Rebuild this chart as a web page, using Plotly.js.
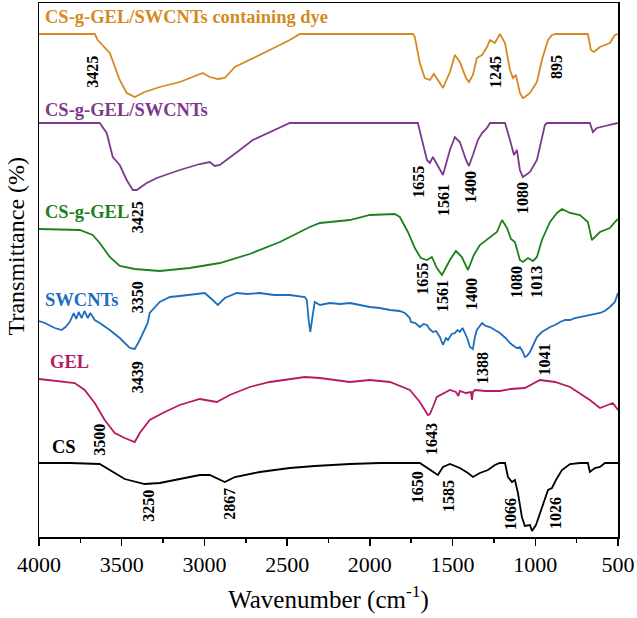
<!DOCTYPE html>
<html>
<head>
<meta charset="utf-8">
<script src="https://cdn.plot.ly/plotly-3.0.1.min.js"></script>
<style>html,body{margin:0;padding:0;background:#fff;}#chart{width:637px;height:618px;}</style>
</head>
<body>
<div id="chart"></div>
<script>
// ---- Data (wavenumber in cm-1, transmittance in offset arbitrary units) ----
const seriesNames = ["CS-g-GEL/SWCNTs containing dye", "CS-g-GEL/SWCNTs", "CS-g-GEL", "SWCNTs", "GEL", "CS"];

const dyeWn = [4000,3663,3645,3572,3512,3470,3421,3361,3270,3149,3010,2968,2919,2877,2816,2726,2605,2484,2423,1740,1728,1698,1668,1637,1613,1577,1558,1516,1486,1456,1419,1401,1377,1353,1322,1292,1274,1244,1214,1183,1153,1135,1117,1093,1075,1063,1032,990,960,923,899,875,682,664,646,609,549,519,500];
const dyeT  = [503,503,497,484,457,444,440,445,450,455,464,460,458,459,470,477,487,497,503,503,500,474,459,457,463,454,449,465,482,475,459,455,462,479,482,490,497,494,503,494,467,459,462,444,439,440,444,455,477,497,502,503,503,487,485,490,494,502,503];

const compWn = [4000,3633,3591,3554,3512,3470,3433,3409,3349,3288,3149,3028,2968,2938,2907,2847,2786,2708,2605,2484,1710,1686,1655,1637,1619,1558,1516,1486,1456,1419,1401,1377,1347,1322,1292,1274,1183,1153,1129,1111,1093,1075,1032,990,960,942,929,670,652,628,579,537,500];
const compT  = [414,414,404,380,372,357,347,347,354,359,367,373,375,371,372,379,387,397,405,414,414,397,377,374,380,362,387,400,395,377,371,382,397,404,409,414,414,397,382,387,367,360,365,377,397,412,414,414,405,409,411,413,414];

const graftWn = [4000,3754,3675,3633,3572,3512,3421,3270,3089,2907,2726,2544,2363,2302,2121,2000,1849,1819,1770,1728,1692,1655,1625,1595,1564,1516,1480,1444,1407,1371,1335,1274,1232,1201,1171,1147,1123,1093,1075,1044,1014,990,960,911,869,839,790,730,682,658,640,609,579,549,519,500];
const graftT  = [308,307,302,294,280,271,268,266,269,274,283,295,310,314,317,322,323,320,305,289,279,277,280,269,262,277,286,280,267,282,292,300,305,317,309,298,295,277,275,279,276,280,297,315,324,328,324,322,315,297,300,305,307,309,315,318];

const swWn = [4000,3965,3905,3863,3840,3814,3790,3775,3760,3742,3725,3705,3690,3663,3633,3572,3512,3451,3421,3391,3343,3331,3270,3209,3150,3089,3040,2998,2950,2919,2877,2804,2740,2665,2580,2484,2393,2381,2370,2360,2348,2333,2302,2242,2180,2121,2060,2000,1940,1879,1820,1788,1758,1752,1725,1698,1675,1655,1640,1619,1600,1577,1558,1540,1528,1505,1486,1470,1456,1440,1425,1410,1395,1377,1365,1353,1322,1300,1274,1240,1214,1180,1153,1130,1111,1093,1075,1063,1051,1032,1010,990,960,942,910,881,850,820,790,760,730,700,670,640,609,580,549,519,500];
const swT  = [216,214,209,207,210,215,224,218,225,219,226,219,224,217,214,207,199,189,188,197,214,224,235,240,241,242,243,244,237,232,239,244,243,244,242,242,240,237,217,205,219,235,232,234,233,234,232,230,229,227,226,224,219,215,214,210,213,212,208,205,206,200,192,199,197,203,204,207,205,209,204,198,190,188,200,207,214,211,210,207,204,199,194,191,189,190,185,180,181,185,193,200,205,207,210,212,215,217,217,219,220,221,222,223,224,226,230,235,244];

const gelWn = [4000,3875,3784,3724,3663,3603,3542,3482,3421,3391,3331,3240,3149,3028,2925,2847,2726,2605,2484,2393,2302,2121,2000,1879,1758,1698,1649,1637,1619,1595,1516,1480,1465,1456,1420,1389,1383,1377,1365,1300,1214,1150,1063,972,881,790,670,609,531,500];
const gelT  = [158,156,154,147,134,117,104,99,95,104,117,125,132,138,135,142,150,155,158,160,159,155,157,155,147,135,122,123,130,140,147,145,141,146,144,145,137,145,147,146,146,148,149,157,155,150,137,129,134,127];

const csWn = [4000,3814,3633,3572,3482,3361,3270,3149,3028,2968,2877,2816,2665,2484,2333,2121,1940,1698,1655,1613,1589,1558,1516,1456,1407,1377,1335,1286,1244,1214,1183,1165,1141,1123,1105,1081,1063,1032,1020,996,966,942,923,899,875,839,790,730,682,670,640,609,579,500];
const csT  = [74,74,73,67,58,53,54,58,62,62,55,60,65,69,71,73,74,74,69,65,62,70,73,69,64,60,64,67,72,74,74,60,55,57,44,20,11,12,6,12,27,39,47,49,57,67,73,74,74,65,69,70,74,74];

// Peak labels (text) per series
const dyePeaks   = ["3425","1245","895"];
const compPeaks  = ["3425","1655","1561","1400","1080"];
const graftPeaks = ["1655","1561","1400","1080","1013"];
const swPeaks    = ["3350","3439","1388","1041"];
const gelPeaks   = ["3500","1643"];
const csPeaks    = ["3250","2867","1650","1585","1066","1026"];

const xTicks = [4000,3500,3000,2500,2000,1500,1000,500];

// ---- Styling / placement ----
const colors = ["rgb(214,137,32)","rgb(124,58,140)","rgb(28,128,28)","rgb(30,110,190)","rgb(182,26,100)","rgb(0,0,0)"];
const FONT = "Liberation Serif";

const seriesData = [[dyeWn,dyeT],[compWn,compT],[graftWn,graftT],[swWn,swT],[gelWn,gelT],[csWn,csT]];
const traces = seriesData.map((d,i)=>({
  x:d[0], y:d[1], type:'scatter', mode:'lines', name:seriesNames[i],
  line:{color:colors[i], width:1.8}, hoverinfo:'skip'
}));

// name label placements [wn, y]
const nameLoc = [[3978,520],[3978,427],[3978,325],[3978,237],[3948,175],[3935,90]];
const annotations = nameLoc.map((p,i)=>({
  x:p[0], y:p[1], xref:'x', yref:'y', text:'<b>'+seriesNames[i]+'</b>', showarrow:false,
  xanchor:'left', yanchor:'middle', font:{family:FONT, size:18.5, color:colors[i]}
}));

const peakLoc = [
  [dyePeaks,   [[3681,465],[1244,465],[875,470]]],
  [compPeaks,  [[3406,320],[1710,355],[1558,337],[1395,350],[1081,339]]],
  [graftPeaks, [[1686,258],[1564,241],[1389,243],[1117,255],[997,255]]],
  [swPeaks,    [[3406,240],[3406,160],[1322,169],[950,177]]],
  [gelPeaks,   [[3639,97],[1631,98]]],
  [csPeaks,    [[3343,31],[2853,33],[1713,50],[1528,41],[1153,23],[881,24]]]
];
peakLoc.forEach(([labels,locs])=>{
  labels.forEach((t,j)=>{
    annotations.push({x:locs[j][0], y:locs[j][1], xref:'x', yref:'y', text:'<b>'+t+'</b>',
      showarrow:false, textangle:-90, xanchor:'center', yanchor:'middle',
      font:{family:FONT, size:16, color:'#000'}});
  });
});

// y-axis title placed as a paper annotation
annotations.push({x:-0.039, y:0.545, xref:'paper', yref:'paper', text:'Transmittance (%)',
  showarrow:false, textangle:-90, xanchor:'center', yanchor:'middle',
  font:{family:FONT, size:24, color:'#000'}});

const layout = {
  width:637, height:618,
  margin:{l:39, r:19, t:3, b:81},
  paper_bgcolor:'#fff', plot_bgcolor:'#fff',
  showlegend:false,
  font:{family:FONT, color:'#000'},
  xaxis:{
    range:[4000,500], tickvals:xTicks, ticktext:xTicks.map(String),
    showline:true, linecolor:'#000', linewidth:1.5, mirror:true,
    ticks:'outside', ticklen:7, tickwidth:1.5, tickcolor:'#000',
    minor:{dtick:250, tick0:500, ticks:'outside', ticklen:4, tickwidth:1.5, tickcolor:'#000'},
    tickfont:{family:FONT, size:22, color:'#000'},
    showgrid:false, zeroline:false,
    title:{text:'Wavenumber (cm<sup>-1</sup>)', font:{family:FONT, size:25, color:'#000'}, standoff:14}
  },
  yaxis:{
    range:[0,534], showline:true, linecolor:'#000', linewidth:1.5, mirror:true,
    ticks:'', showticklabels:false, showgrid:false, zeroline:false
  },
  annotations:annotations
};

Plotly.newPlot('chart', traces, layout, {staticPlot:true, displayModeBar:false});
</script>
</body>
</html>
